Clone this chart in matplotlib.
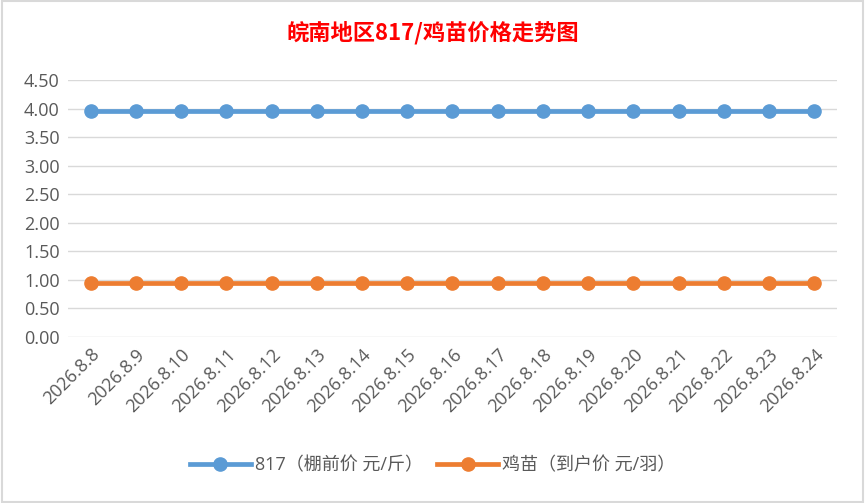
import matplotlib.pyplot as plt

plt.rcParams['font.family'] = ['Open Sans', 'Noto Sans CJK SC', 'DejaVu Sans']

dates = ['2026.8.8', '2026.8.9', '2026.8.10', '2026.8.11', '2026.8.12', '2026.8.13',
         '2026.8.14', '2026.8.15', '2026.8.16', '2026.8.17', '2026.8.18', '2026.8.19',
         '2026.8.20', '2026.8.21', '2026.8.22', '2026.8.23', '2026.8.24']
price_817 = [3.95] * 17   # 棚前价 元/斤
price_chick = [0.95] * 17  # 到户价 元/羽
yticks = [0, 0.5, 1, 1.5, 2, 2.5, 3, 3.5, 4, 4.5]

fig = plt.figure(figsize=(8.65, 5.03), dpi=100)
ax = fig.add_axes([0.0786, 0.330, 0.889, 0.511])

x = range(len(dates))
ax.plot(x, price_817, color='#5b9bd5', lw=3.4, marker='o', ms=9.5,
        label='817（棚前价 元/斤）', zorder=3)
ax.plot(x, price_chick, color='#ed7d31', lw=3.4, marker='o', ms=9.5,
        label='鸡苗（到户价 元/羽）', zorder=3)

ax.set_xlim(-0.5, len(dates) - 0.5)
ax.set_ylim(0, 4.5)
ax.set_yticks(yticks)
ax.set_yticklabels([f'{v:.2f}' for v in yticks])
ax.set_xticks(list(x))
ax.set_xticklabels(dates, rotation=45, ha='right', rotation_mode='anchor')
ax.tick_params(colors='#595959', labelsize=13, length=0, pad=6)
ax.grid(axis='y', color='#d9d9d9', lw=1)
ax.set_axisbelow(True)
for s in ax.spines.values():
    s.set_visible(False)

fig.text(0.5, 0.935, '皖南地区817/鸡苗价格走势图', color='red', fontsize=16,
         fontweight='bold', ha='center', va='center',
         family=['Noto Sans CJK SC', 'DejaVu Sans'])

leg = fig.legend(loc='center', bbox_to_anchor=(0.5, 0.075), ncol=2, frameon=False,
                 fontsize=13, handlelength=3.4, columnspacing=0.8, handletextpad=0.2)
for t in leg.get_texts():
    t.set_color('#595959')
    t.set_family(['Open Sans', 'Noto Sans CJK SC'])

fig.patches.append(plt.Rectangle((0.002, 0.002), 0.996, 0.996, transform=fig.transFigure,
                                 fill=False, edgecolor='#d9d9d9', lw=1.5))

fig.savefig('out.png', dpi=100)
